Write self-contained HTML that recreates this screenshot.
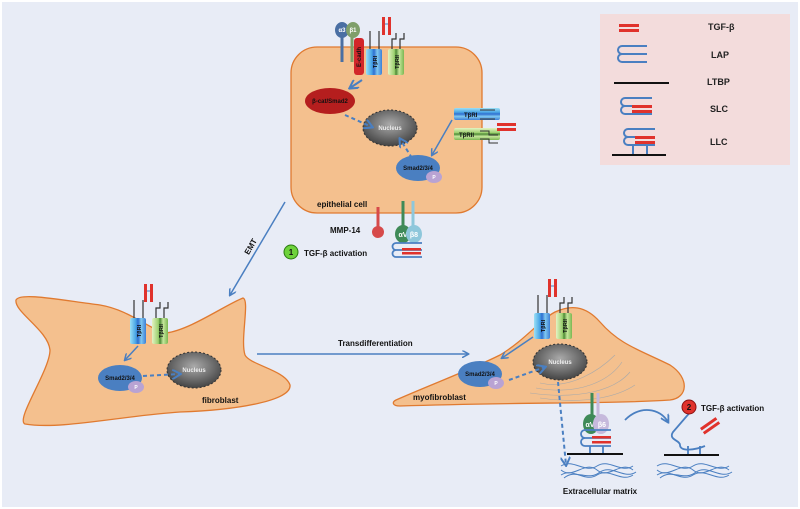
<!DOCTYPE html>
<html><head><meta charset="utf-8"><style>
body{margin:0;background:#fff}
svg{display:block}
text{font-family:"Liberation Sans",sans-serif;font-weight:bold}
</style></head><body>
<svg width="800" height="509" viewBox="0 0 800 509" xmlns="http://www.w3.org/2000/svg">
<defs>
<marker id="ah" viewBox="0 0 10 10" refX="8" refY="5" markerWidth="5" markerHeight="5" orient="auto"><path d="M0,0 L9,5 L0,10" fill="none" stroke="#4a7fc1" stroke-width="2"/></marker>
<radialGradient id="nuc" cx="0.5" cy="0.4" r="0.6"><stop offset="0" stop-color="#aaa"/><stop offset="1" stop-color="#444"/></radialGradient>
<linearGradient id="rb" x1="0" x2="1"><stop offset="0" stop-color="#9ce0f5"/><stop offset=".35" stop-color="#4aa6e6"/><stop offset=".5" stop-color="#2f6fd0"/><stop offset=".7" stop-color="#7fc8f0"/><stop offset="1" stop-color="#3d7fd6"/></linearGradient>
<linearGradient id="rg" x1="0" x2="1"><stop offset="0" stop-color="#e3f3c3"/><stop offset=".4" stop-color="#9bcf6e"/><stop offset=".5" stop-color="#4d8a35"/><stop offset=".7" stop-color="#c6e79c"/><stop offset="1" stop-color="#7cb752"/></linearGradient>
<linearGradient id="rbh" x1="0" y1="0" x2="0" y2="1"><stop offset="0" stop-color="#9ce0f5"/><stop offset=".35" stop-color="#4aa6e6"/><stop offset=".5" stop-color="#2f6fd0"/><stop offset=".7" stop-color="#7fc8f0"/><stop offset="1" stop-color="#3d7fd6"/></linearGradient>
<linearGradient id="rgh" x1="0" y1="0" x2="0" y2="1"><stop offset="0" stop-color="#e3f3c3"/><stop offset=".4" stop-color="#9bcf6e"/><stop offset=".5" stop-color="#4d8a35"/><stop offset=".7" stop-color="#c6e79c"/><stop offset="1" stop-color="#7cb752"/></linearGradient>
<g id="recv">
<line x1="0" y1="-18" x2="0" y2="0" stroke="#333" stroke-width="1.2"/><line x1="9" y1="-18" x2="9" y2="0" stroke="#333" stroke-width="1.2"/>
<rect x="-4" y="0" width="16" height="26" rx="2" fill="url(#rb)"/>
<text transform="translate(7,13) rotate(-90)" font-size="5.5" text-anchor="middle" fill="#111">TβRI</text>
<g transform="translate(22,0)">
<path d="M0,0 V-10 H4 V-16 M8,0 V-10 H12 V-16" fill="none" stroke="#333" stroke-width="1.2"/>
<rect x="-4" y="0" width="16" height="26" rx="2" fill="url(#rg)"/>
<text transform="translate(7,13) rotate(-90)" font-size="5.5" text-anchor="middle" fill="#111">TβRII</text>
</g>
</g>
<g id="tgfv"><rect x="0" y="0" width="3" height="18" fill="#e0322c"/><rect x="6" y="0" width="3" height="18" fill="#e0322c"/><line x1="3" y1="7" x2="6" y2="7" stroke="#4a7fc1"/></g>
<g id="smad">
<ellipse cx="0" cy="0" rx="22" ry="13" fill="#4a7fc1"/>
<text x="0" y="2" font-size="6" text-anchor="middle" fill="#111">Smad2/3/4</text>
<ellipse cx="16" cy="9" rx="8" ry="6" fill="#b9a3d3"/><text x="16" y="11" font-size="5" fill="#fff" text-anchor="middle">P</text>
</g>
<g id="nucl"><ellipse cx="0" cy="0" rx="27" ry="18" fill="url(#nuc)" stroke="#333" stroke-dasharray="2,2"/><text x="0" y="2" font-size="6" text-anchor="middle" fill="#eee">Nucleus</text></g>
<g id="ecm" fill="none" stroke="#4a7fc1" stroke-width="1">
<path d="M0,0 C12,-8 24,8 36,0 C48,-8 60,8 72,0"/>
<path d="M0,9 C12,1 24,17 36,9 C48,1 60,17 72,9"/>
<path d="M0,4 C12,14 24,-6 36,4 C48,14 60,-6 72,4"/>
<path d="M3,12 C15,2 27,16 39,6 C51,-2 63,14 75,6"/>
</g>
</defs>
<rect width="800" height="509" fill="#fff"/>
<rect x="2" y="2" width="796" height="505" fill="#e8ecf6"/>

<!-- legend -->
<rect x="600" y="14" width="190" height="151" fill="#f3dcdc"/>
<rect x="619" y="24" width="20" height="3" fill="#e0322c"/><rect x="619" y="29" width="20" height="3" fill="#e0322c"/>
<path d="M647,46 H622 a4,4 0 0 0 0,8 H647 M622,54 a4,4 0 0 0 0,8 H647" fill="none" stroke="#4a7fc1" stroke-width="2"/>
<line x1="614" y1="83" x2="669" y2="83" stroke="#111" stroke-width="2"/>
<path d="M652,98 H625 a4,4 0 0 0 0,8 H652 M625,106 a4,4 0 0 0 0,8 H652" fill="none" stroke="#4a7fc1" stroke-width="2"/>
<rect x="632" y="105" width="20" height="3" fill="#e0322c"/><rect x="632" y="110" width="20" height="3" fill="#e0322c"/>
<path d="M655,129 H628 a4,4 0 0 0 0,8 H655 M628,137 a4,4 0 0 0 0,8 H655 M633,145 V154 M647,145 V154" fill="none" stroke="#4a7fc1" stroke-width="2"/>
<rect x="635" y="136" width="20" height="3" fill="#e0322c"/><rect x="635" y="141" width="20" height="3" fill="#e0322c"/>
<line x1="612" y1="155" x2="666" y2="155" stroke="#111" stroke-width="2"/>
<g font-size="9" fill="#222"><text x="708" y="30">TGF-β</text><text x="711" y="58">LAP</text><text x="707" y="85">LTBP</text><text x="710" y="112">SLC</text><text x="710" y="145">LLC</text></g>

<!-- epithelial cell -->
<rect x="291" y="47" width="191" height="166" rx="26" fill="#f4c08e" stroke="#e07a30" stroke-width="1.3"/>
<path d="M342,62 V32" stroke="#4a6fa3" stroke-width="3"/><ellipse cx="342" cy="30" rx="7" ry="8" fill="#4a6fa3"/><text x="342" y="32" font-size="6" fill="#fff" text-anchor="middle">α3</text>
<path d="M352,62 V32" stroke="#7f9f6a" stroke-width="3"/><ellipse cx="353" cy="30" rx="7" ry="8" fill="#7f9f6a"/><text x="353" y="32" font-size="6" fill="#fff" text-anchor="middle">β1</text>
<rect x="354" y="38" width="10" height="37" rx="3" fill="#d2262a"/><text transform="translate(361,57) rotate(-90)" font-size="6" text-anchor="middle" fill="#111">E-cadh</text>
<use href="#recv" x="370" y="49"/>
<use href="#tgfv" x="382" y="17"/>
<line x1="362" y1="80" x2="350" y2="88" stroke="#4a7fc1" stroke-width="2" marker-end="url(#ah)"/>
<ellipse cx="330" cy="101" rx="25" ry="13" fill="#b51e1e"/><text x="330" y="103" font-size="6" text-anchor="middle" fill="#111">β-cat/Smad2</text>
<use href="#nucl" x="390" y="128"/>
<line x1="345" y1="115" x2="372" y2="127" stroke="#4a7fc1" stroke-width="2" stroke-dasharray="4,3" marker-end="url(#ah)"/>
<line x1="412" y1="158" x2="400" y2="139" stroke="#4a7fc1" stroke-width="2" stroke-dasharray="4,3" marker-end="url(#ah)"/>
<use href="#smad" x="418" y="168"/>
<line x1="452" y1="120" x2="432" y2="155" stroke="#4a7fc1" stroke-width="1.5" marker-end="url(#ah)"/>
<rect x="454" y="108" width="46" height="12" rx="2" fill="url(#rbh)"/><text x="464" y="117" font-size="6" fill="#111">TβRI</text>
<line x1="480" y1="110" x2="495" y2="110" stroke="#333"/><line x1="480" y1="119" x2="495" y2="119" stroke="#333"/>
<rect x="454" y="128" width="46" height="12" rx="2" fill="url(#rgh)"/><text x="459" y="137" font-size="6" fill="#111">TβRII</text>
<path d="M480,131 H489 V135 H498 M480,139 H489 V143 H498" fill="none" stroke="#333"/>
<rect x="497" y="123" width="19" height="3" fill="#e0322c"/><rect x="497" y="128" width="19" height="3" fill="#e0322c"/>
<text x="317" y="207" font-size="8" fill="#111">epithelial cell</text>
<line x1="378" y1="207" x2="378" y2="228" stroke="#d64a4a" stroke-width="3"/><circle cx="378" cy="232" r="6" fill="#d64a4a"/>
<text x="330" y="233" font-size="8" fill="#111">MMP-14</text>
<path d="M403,201 V228" stroke="#3f8a58" stroke-width="3"/><ellipse cx="403" cy="234" rx="8" ry="9" fill="#3f8a58"/><text x="403" y="237" font-size="7" fill="#fff" text-anchor="middle">αV</text>
<path d="M413,201 V228" stroke="#8ec7db" stroke-width="3"/><ellipse cx="414" cy="234" rx="8" ry="9" fill="#8ec7db"/><text x="414" y="237" font-size="7" fill="#fff" text-anchor="middle">β8</text>
<path d="M422,243 H396 a3.5,3.5 0 0 0 0,7 H422 M396,250 a3.5,3.5 0 0 0 0,7 H422" fill="none" stroke="#4a7fc1" stroke-width="1.8"/>
<rect x="402" y="248" width="19" height="2.5" fill="#e0322c"/><rect x="402" y="252" width="19" height="2.5" fill="#e0322c"/>
<circle cx="291" cy="252" r="7" fill="#6ed23b" stroke="#2a7a10"/><text x="291" y="255" font-size="8" text-anchor="middle" fill="#111">1</text>
<text x="304" y="256" font-size="8" fill="#111">TGF-β activation</text>

<line x1="285" y1="202" x2="230" y2="295" stroke="#4a7fc1" stroke-width="1.5" marker-end="url(#ah)"/>
<text transform="translate(253,248) rotate(-60)" font-size="8" fill="#111" text-anchor="middle">EMT</text>

<!-- fibroblast -->
<path d="M16,300 C20,292 60,300 100,305 C130,310 150,330 166,333 C190,330 225,305 243,298 C250,300 240,340 245,355 C250,365 285,370 290,385 C292,400 240,410 180,412 C120,416 60,430 25,424 C15,420 50,370 50,350 C48,330 14,312 16,300 Z" fill="#f4c08e" stroke="#e07a30" stroke-width="1.3"/>
<use href="#recv" x="134" y="318"/>
<use href="#tgfv" x="144" y="284"/>
<line x1="138" y1="346" x2="125" y2="360" stroke="#4a7fc1" stroke-width="1.5" marker-end="url(#ah)"/>
<use href="#smad" x="120" y="378"/>
<use href="#nucl" x="194" y="370"/>
<line x1="143" y1="376" x2="180" y2="374" stroke="#4a7fc1" stroke-width="2" stroke-dasharray="4,3" marker-end="url(#ah)"/>
<text x="202" y="403" font-size="8" fill="#111">fibroblast</text>

<line x1="257" y1="354" x2="468" y2="354" stroke="#4a7fc1" stroke-width="1.5" marker-end="url(#ah)"/>
<text x="338" y="346" font-size="8" fill="#111">Transdifferentiation</text>

<!-- myofibroblast -->
<path d="M396,400 C430,385 470,370 500,355 C525,340 540,320 555,312 C570,305 585,305 600,322 C620,345 640,350 670,365 C690,378 688,398 670,400 C610,404 520,402 400,406 C392,406 392,402 396,400 Z" fill="#f4c08e" stroke="#e07a30" stroke-width="1.3"/>
<use href="#recv" x="538" y="313"/>
<use href="#tgfv" x="548" y="279"/>
<line x1="533" y1="337" x2="502" y2="358" stroke="#4a7fc1" stroke-width="1.5" marker-end="url(#ah)"/>
<use href="#smad" x="480" y="374"/>
<use href="#nucl" x="560" y="362"/>
<line x1="509" y1="380" x2="545" y2="367" stroke="#4a7fc1" stroke-width="2" stroke-dasharray="4,3" marker-end="url(#ah)"/>
<text x="413" y="400" font-size="8" fill="#111">myofibroblast</text>
<g fill="none" stroke="#aaa" stroke-width=".6">
<path d="M540,383 C570,390 600,370 615,355"/><path d="M536,388 C580,396 610,380 622,362"/><path d="M530,393 C580,400 615,390 630,372"/><path d="M540,398 C590,405 620,395 635,385"/>
</g>
<line x1="558" y1="382" x2="566" y2="465" stroke="#4a7fc1" stroke-width="2" stroke-dasharray="4,3" marker-end="url(#ah)"/>
<path d="M592,393 V425" stroke="#3f8a58" stroke-width="3"/><ellipse cx="591" cy="424" rx="8" ry="10" fill="#3f8a58"/><text x="590" y="427" font-size="7" fill="#fff" text-anchor="middle">αV</text>
<path d="M598,393 V425" stroke="#c6b9dc" stroke-width="3"/><ellipse cx="601" cy="424" rx="8" ry="10" fill="#c6b9dc"/><text x="602" y="427" font-size="7" fill="#fff" text-anchor="middle">β6</text>
<path d="M611,430 H585 a4,4 0 0 0 0,8 H611 M585,438 a4,4 0 0 0 0,8 H611 M590,446 V454 M603,446 V454" fill="none" stroke="#4a7fc1" stroke-width="1.8"/>
<rect x="592" y="436" width="19" height="2.5" fill="#e0322c"/><rect x="592" y="441" width="19" height="2.5" fill="#e0322c"/>
<line x1="567" y1="454" x2="623" y2="454" stroke="#111" stroke-width="2"/>
<use href="#ecm" x="561" y="466"/>
<path d="M625,420 C640,405 660,408 668,422" fill="none" stroke="#4a7fc1" stroke-width="1.8" marker-end="url(#ah)"/>
<path d="M692,410 L673,432 C668,440 680,440 680,445 C680,452 695,450 705,446 M688,446 V455 M700,446 V455" fill="none" stroke="#4a7fc1" stroke-width="1.8"/>
<line x1="664" y1="455" x2="719" y2="455" stroke="#111" stroke-width="2"/>
<g transform="translate(700,428) rotate(-35)"><rect x="0" y="0" width="19" height="3" fill="#e0322c"/><rect x="0" y="5" width="19" height="3" fill="#e0322c"/></g>
<use href="#ecm" x="657" y="466"/>
<circle cx="689" cy="407" r="7" fill="#e0322c" stroke="#8a1010"/><text x="689" y="410" font-size="8" text-anchor="middle" fill="#111">2</text>
<text x="701" y="411" font-size="8" fill="#111">TGF-β activation</text>
<text x="600" y="494" font-size="8" fill="#111" text-anchor="middle">Extracellular matrix</text>
</svg>
</body></html>
